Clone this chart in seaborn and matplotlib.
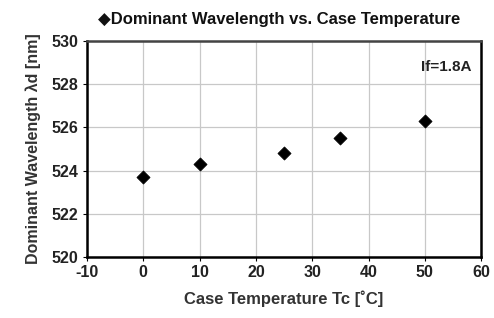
import matplotlib
matplotlib.use("Agg")
import matplotlib.pyplot as plt
import seaborn as sns
import pandas as pd

# data
case_temp = [0, 10, 25, 35, 50]
wavelength = [523.7, 524.3, 524.8, 525.5, 526.3]
x_ticks = [-10, 0, 10, 20, 30, 40, 50, 60]
y_ticks = [520, 522, 524, 526, 528, 530]

sns.set_style("whitegrid")
plt.rcParams["font.family"] = ["Liberation Sans", "DejaVu Sans"]
plt.rcParams["font.weight"] = "bold"
plt.rcParams["axes.unicode_minus"] = False

df = pd.DataFrame({"Tc": case_temp, "ld": wavelength})

fig = plt.figure(figsize=(4.94, 3.18), dpi=100)
ax = fig.add_axes([0.176, 0.192, 0.798, 0.679])

sns.scatterplot(data=df, x="Tc", y="ld", marker="D", s=45, color="black",
                edgecolor="black", linewidth=0.5, ax=ax, zorder=3)

ax.set_xlim(-10, 60)
ax.set_ylim(520, 530)
ax.set_xticks(x_ticks)
ax.set_yticks(y_ticks)
ax.grid(True, color="#c8c8c8", linewidth=0.9)
for sp in ax.spines.values():
    sp.set_visible(True)
    sp.set_color("black")
    sp.set_linewidth(1.8)
ax.spines["top"].set_color("#444444")
ax.tick_params(axis="both", direction="out", length=3, width=0.8, color="black",
               labelsize=11.5, labelcolor="#222222", pad=3, bottom=True, left=True)
for lab in ax.get_xticklabels() + ax.get_yticklabels():
    lab.set_fontweight("bold")

ax.set_xlabel("Case Temperature Tc [˚C]", fontsize=12, fontweight="bold",
              color="#333333", labelpad=7)
ax.set_ylabel("Dominant Wavelength λd [nm]", fontsize=11.5, fontweight="bold",
              color="#333333", labelpad=8)
ax.text(0.975, 0.88, "If=1.8A", transform=ax.transAxes, ha="right", va="center",
        fontsize=11, fontweight="bold", color="#222222")

fig.text(0.566, 0.94, "◆Dominant Wavelength vs. Case Temperature", ha="center", va="center",
         fontsize=12, fontweight="bold", color="#111111")

fig.savefig("out.png", dpi=100)
